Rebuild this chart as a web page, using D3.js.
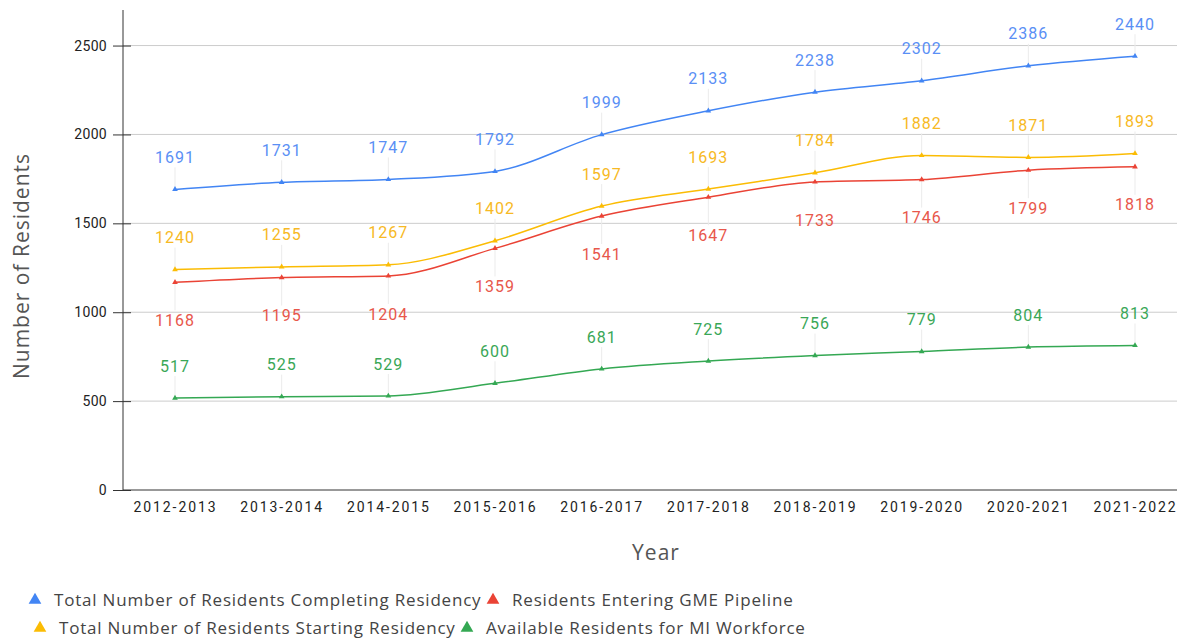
<!DOCTYPE html>
<html>
<head>
<meta charset="utf-8">
<script src="https://cdn.jsdelivr.net/npm/d3@7"></script>
<style>
  body { margin: 0; background: #fff; }
  svg text { font-family: "Open Sans", sans-serif; }
</style>
</head>
<body>
<svg id="chart" width="1177" height="639"></svg>
<script>
// --- data ---
const years = ["2012-2013", "2013-2014", "2014-2015", "2015-2016", "2016-2017",
               "2017-2018", "2018-2019", "2019-2020", "2020-2021", "2021-2022"];
const completing = [1691, 1731, 1747, 1792, 1999, 2133, 2238, 2302, 2386, 2440];
const starting   = [1240, 1255, 1267, 1402, 1597, 1693, 1784, 1882, 1871, 1893];
const entering   = [1168, 1195, 1204, 1359, 1541, 1647, 1733, 1746, 1799, 1818];
const available  = [517, 525, 529, 600, 681, 725, 756, 779, 804, 813];
const yTicks = [0, 500, 1000, 1500, 2000, 2500];

const series = [
  { name: "Total Number of Residents Completing Residency", values: completing, color: "#4285f4", label: "#5a8ff5", below: false },
  { name: "Total Number of Residents Starting Residency", values: starting, color: "#fbbc04", label: "#f7b924", below: false },
  { name: "Residents Entering GME Pipeline", values: entering, color: "#ea4335", label: "#e8574b", below: true },
  { name: "Available Residents for MI Workforce", values: available, color: "#34a853", label: "#3aa757", below: false }
];

const svg = d3.select("#chart");
const plotLeft = 123, plotRight = 1177, plotTop = 10, plotBottom = 490;

const x = d3.scalePoint().domain(years).range([175, 1135]);
const y = d3.scaleLinear().domain([0, 2700]).range([plotBottom, plotTop]);

// gridlines
svg.append("g").selectAll("line")
  .data(yTicks.filter(d => d > 0))
  .enter().append("line")
  .attr("x1", plotLeft).attr("x2", plotRight)
  .attr("y1", d => y(d)).attr("y2", d => y(d))
  .attr("stroke", "#cccccc").attr("stroke-width", 1);

// y axis
const yAxis = svg.append("g")
  .attr("transform", `translate(${plotLeft},0)`)
  .call(d3.axisLeft(y).tickValues(yTicks).tickFormat(d3.format("d")).tickSize(10).tickPadding(6));
yAxis.select(".domain").attr("stroke", "#333").attr("d", `M0,${plotTop}V${plotBottom}`);
yAxis.selectAll(".tick line").attr("stroke", "#333").attr("x1", 8);
yAxis.selectAll("text")
  .style("font-family", "Roboto, Arial, sans-serif")
  .style("font-size", "14px").attr("fill", "#222").style("letter-spacing", "0.3px");

// x axis
const xAxis = svg.append("g")
  .attr("transform", `translate(0,${plotBottom})`)
  .call(d3.axisBottom(x).tickSize(0).tickPadding(12));
xAxis.select(".domain").attr("stroke", "#333").attr("d", `M${plotLeft},0H${plotRight}`);
xAxis.selectAll("text")
  .style("font-family", "Roboto, Arial, sans-serif")
  .style("font-size", "14px").attr("fill", "#222").style("letter-spacing", "1.9px");

// axis titles
svg.append("text")
  .attr("transform", "translate(29,266) rotate(-90)")
  .attr("text-anchor", "middle")
  .style("font-size", "21px").style("letter-spacing", "1px").attr("fill", "#555")
  .text("Number of Residents");
svg.append("text")
  .attr("x", 656).attr("y", 560)
  .attr("text-anchor", "middle")
  .style("font-size", "21px").style("letter-spacing", "1px").attr("fill", "#555")
  .text("Year");

// leader lines
series.forEach(s => {
  const g = svg.append("g");
  const off = s.below ? 38 : -32;
  g.selectAll("line")
    .data(s.values)
    .enter().append("line")
    .attr("x1", (d, i) => x(years[i])).attr("x2", (d, i) => x(years[i]))
    .attr("y1", d => y(d))
    .attr("y2", d => y(d) + (s.below ? off - 10 : off + 10))
    .attr("stroke", "#ebebeb").attr("stroke-width", 1);
});

const line = d3.line()
  .x((d, i) => x(years[i]))
  .y(d => y(d))
  .curve(d3.curveMonotoneX);

const tri = d3.symbol().type(d3.symbolTriangle).size(14);

series.forEach(s => {
  const g = svg.append("g");
  g.append("path")
    .attr("d", line(s.values))
    .attr("fill", "none").attr("stroke", s.color).attr("stroke-width", 1.5);
  g.selectAll(".pt")
    .data(s.values)
    .enter().append("path")
    .attr("class", "pt")
    .attr("d", tri)
    .attr("transform", (d, i) => `translate(${x(years[i])},${y(d)})`)
    .attr("fill", s.color);
  const off = s.below ? 38 : -32;
  g.selectAll(".lbl")
    .data(s.values)
    .enter().append("text")
    .attr("class", "lbl")
    .attr("x", (d, i) => x(years[i]))
    .attr("y", d => y(d) + off)
    .attr("dy", "0.35em")
    .attr("text-anchor", "middle")
    .style("font-family", "Roboto, sans-serif")
    .style("font-size", "16px")
    .style("letter-spacing", "1px")
    .attr("fill", s.label)
    .text(d => d);
});

// legend
const legendItems = [
  { s: series[0], x: 35, y: 600 },
  { s: series[2], x: 493, y: 600 },
  { s: series[1], x: 40, y: 628 },
  { s: series[3], x: 467, y: 628 }
];
const legTri = d3.symbol().type(d3.symbolTriangle).size(70);
const leg = svg.append("g");
legendItems.forEach(it => {
  leg.append("path")
    .attr("d", legTri)
    .attr("transform", `translate(${it.x},${it.y})`)
    .attr("fill", it.s.color);
  leg.append("text")
    .attr("x", it.x + 19).attr("y", it.y)
    .attr("dy", "0.35em")
    .style("font-size", "17px").style("letter-spacing", "0.8px").attr("fill", "#444")
    .text(it.s.name);
});
</script>
</body>
</html>
